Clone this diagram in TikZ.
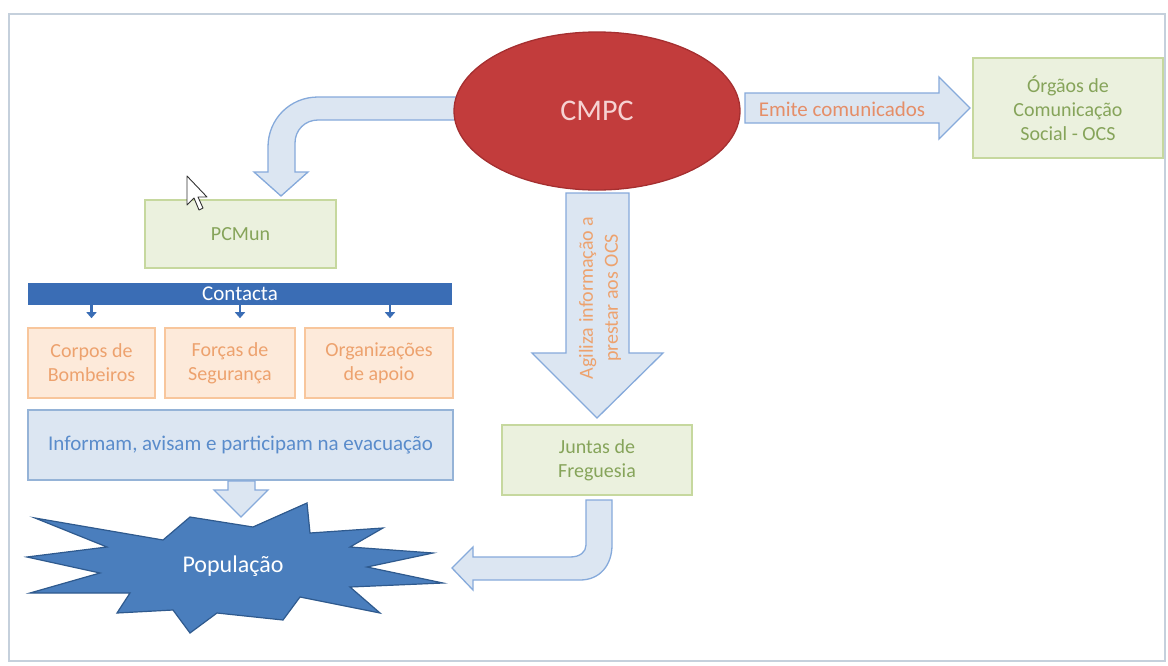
\documentclass[tikz,border=0pt]{standalone}
\usepackage{fontspec}
\setmainfont{Carlito}
\usetikzlibrary{shapes.geometric,arrows.meta}

\definecolor{frameline}{HTML}{C5D0DC}
\definecolor{cmpcfill}{HTML}{C23C3C}
\definecolor{cmpcedge}{HTML}{A52F30}
\definecolor{cmpctext}{HTML}{F6D2D2}
\definecolor{arrowfill}{HTML}{DCE6F2}
\definecolor{arrowedge}{HTML}{86AADB}
\definecolor{greenfill}{HTML}{EBF1DE}
\definecolor{greenedge}{HTML}{C6D89E}
\definecolor{greentext}{HTML}{86A45A}
\definecolor{orangefill}{HTML}{FDEADA}
\definecolor{orangeedge}{HTML}{F8C69C}
\definecolor{orangetext}{HTML}{EDA26E}
\definecolor{emitetext}{HTML}{E58E68}
\definecolor{bluefill}{HTML}{DCE6F2}
\definecolor{blueedge}{HTML}{95B3D7}
\definecolor{bluetext}{HTML}{5A8CCB}
\definecolor{barblue}{HTML}{3A6DB5}
\definecolor{starfill}{HTML}{4A7EBD}
\definecolor{staredge}{HTML}{2F5A8E}

\tikzset{
  sz/.style 2 args={font=\fontsize{#1}{#2}\selectfont},
  greenbox/.style={draw=greenedge, fill=greenfill, line width=1.2pt, inner sep=0pt,
    text=greentext, align=center, sz={20}{24}},
  orangebox/.style={draw=orangeedge, fill=orangefill, line width=1.2pt, inner sep=0pt,
    text=orangetext, align=center, sz={20}{24}},
  bluebox/.style={draw=blueedge, fill=bluefill, line width=1.2pt, inner sep=0pt,
    text=bluetext, align=center, sz={21}{24}},
  blockarrow/.style={draw=arrowedge, fill=arrowfill, line width=1.3pt, line join=miter},
  smallarrow/.style={draw=barblue, line width=2.5pt,
    -{Triangle[width=10pt,length=6pt]}},
}

\begin{document}
\begin{tikzpicture}[x=1pt,y=-1pt]
\useasboundingbox (0,0) rectangle (1168,665);
\fill[white] (0,0) rectangle (1168,665);

% outer frame
\draw[frameline, line width=1.5pt] (9,14) rectangle (1165,661);

% block arrows leaving the CMPC ellipse
\draw[blockarrow] (456,97) -- (318,97) .. controls (290,97) and (268,119) .. (268,147)
  -- (268,172) -- (254,172) -- (281,196) -- (308,172) -- (295,172) -- (295,143)
  .. controls (295,130) and (305,120) .. (318,120) -- (456,120) -- cycle;
\draw[blockarrow] (566,193) -- (629,193) -- (629,353) -- (663,353) -- (597,418)
  -- (532,353) -- (566,353) -- cycle;
\draw[blockarrow] (745,93) -- (939,93) -- (939,77) -- (970,108) -- (939,139)
  -- (939,123) -- (745,123) -- cycle;

% central ellipse
\node[ellipse, draw=cmpcedge, fill=cmpcfill, line width=1.3pt, inner sep=0pt,
  minimum width=286pt, minimum height=158pt, text=cmpctext, sz={30}{34}]
  (cmpc) at (597,111) {CMPC};

% labels on the arrows
\node[text=emitetext, sz={21}{24}] (emite) at (842,109) {Emite comunicados};
\node[text=orangetext, sz={20}{25}, rotate=90, align=center] (agiliza) at (600,298)
  {Agiliza informação a\\prestar aos OCS};

% boxes
\node[greenbox, minimum width=190pt, minimum height=100pt] (ocs) at (1068,108)
  {Órgãos de\\Comunicação\\Social - OCS};
\node[greenbox, minimum width=191pt, minimum height=68pt] (pcmun) at (240.5,234) {PCMun};
\node[greenbox, minimum width=190pt, minimum height=70pt] (juntas) at (597,460)
  {Juntas de\\Freguesia};

\node[fill=barblue, inner sep=0pt, minimum width=424pt, minimum height=22pt,
  text=white, sz={21}{22}] (contacta) at (240,294) {Contacta};

\node[orangebox, minimum width=127pt, minimum height=70pt] (corpos) at (91.5,363)
  {Corpos de\\Bombeiros};
\node[orangebox, minimum width=130pt, minimum height=70pt] (forcas) at (230,363)
  {Forças de\\Segurança};
\node[orangebox, minimum width=148pt, minimum height=70pt] (org) at (379,363)
  {Organizações\\de apoio};

\draw[smallarrow] (corpos.north |- contacta.south) -- ++(0,13);
\draw[smallarrow] (forcas.north |- contacta.south) ++(10,0) -- ++(0,13);
\draw[smallarrow] (org.north |- contacta.south) ++(11,0) -- ++(0,13);

\node[bluebox, minimum width=425pt, minimum height=70pt] (informam) at (240.5,445)
  {Informam, avisam e participam na evacuação};

% arrows into the population burst
\draw[blockarrow] (228,481) -- (255,481) -- (255,490) -- (268,490) -- (241,517)
  -- (214,490) -- (228,490) -- cycle;
\draw[blockarrow] (586,500) -- (612,500) -- (612,545)
  .. controls (612,565) and (600,580) .. (580,580) -- (473,580) -- (473,590)
  -- (452,568) -- (473,547) -- (473,557) -- (570,557)
  .. controls (580,557) and (586,552) .. (586,545) -- cycle;

% population burst
\draw[fill=starfill, draw=staredge, line width=1.2pt, line join=miter]
  (35,518) -- (163,540) -- (190,517) -- (253,527) -- (307,503) -- (310,533)
  -- (383,528) -- (350,547) -- (433,553) -- (367,567) -- (443,583) -- (350,587)
  -- (380,613) -- (300,597) -- (283,620) -- (217,613) -- (190,633) -- (173,610)
  -- (117,613) -- (130,593) -- (30,593) -- (100,573) -- (27,557) -- (107,547)
  -- cycle;
\node[text=white, sz={24}{28}] (pop) at (233,566) {População};

% mouse pointer
\draw[fill=white, draw=black!80, line width=0.9pt, line join=round]
  (187,176) -- (187,205) -- (194,198) -- (199,210) -- (203,208) -- (198,197)
  -- (207,197) -- cycle;
\end{tikzpicture}
\end{document}
